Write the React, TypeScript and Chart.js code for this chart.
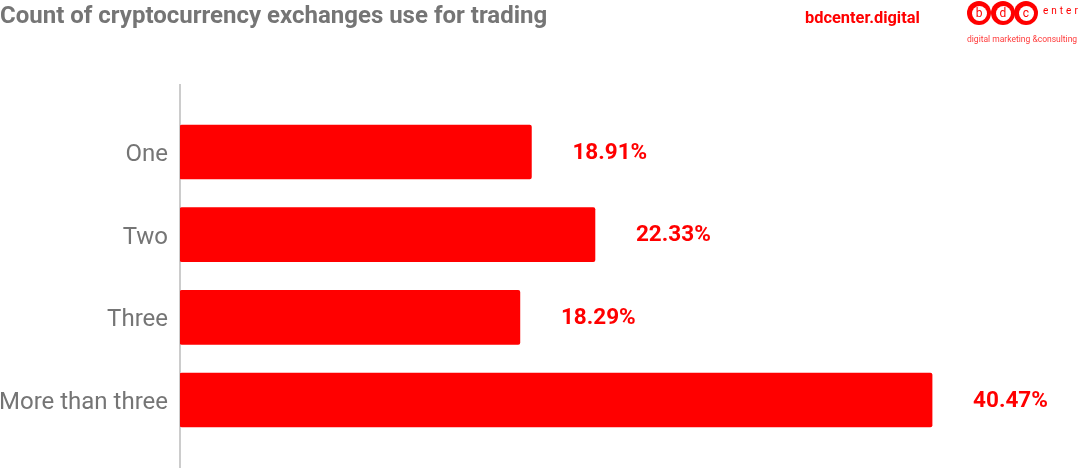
import React, { useEffect, useRef } from "react";
import { Chart, registerables } from "chart.js";

Chart.register(...registerables);

const categories = ["One", "Two", "Three", "More than three"];
const values = [18.91, 22.33, 18.29, 40.47];
const valueLabels = ["18.91%", "22.33%", "18.29%", "40.47%"];
const xMin = 0;
const xMax = 48;

const RED = "#ff0000";

const axisLinePlugin = {
  id: "axisLine",
  beforeDatasetsDraw(chart: any) {
    const ctx = chart.ctx;
    const x = chart.chartArea.left;
    ctx.save();
    ctx.strokeStyle = "#cccccc";
    ctx.lineWidth = 2;
    ctx.beginPath();
    ctx.moveTo(x, 84);
    ctx.lineTo(x, chart.height);
    ctx.stroke();
    ctx.restore();
  },
};

const valueLabelPlugin = {
  id: "valueLabels",
  afterDatasetsDraw(chart: any) {
    const ctx = chart.ctx;
    const meta = chart.getDatasetMeta(0);
    ctx.save();
    ctx.fillStyle = RED;
    ctx.font = "bold 22.5px Roboto";
    ctx.textAlign = "left";
    ctx.textBaseline = "middle";
    meta.data.forEach((bar: any, i: number) => {
      ctx.fillText(valueLabels[i], bar.x + 41, bar.y + 1);
    });
    ctx.restore();
  },
};

function Logo() {
  const letters = ["b", "d", "c"];
  const centers = [979, 1003, 1026];
  return (
    <>
      {letters.map((l, i) => (
        <div
          key={l}
          style={{
            position: "absolute",
            left: centers[i] - 12,
            top: 1,
            width: 24,
            height: 24,
            borderRadius: "50%",
            background: RED,
            display: "flex",
            alignItems: "center",
            justifyContent: "center",
          }}
        >
          <div
            style={{
              width: 15,
              height: 15,
              borderRadius: "50%",
              background: "#fff",
              color: RED,
              fontFamily: "Roboto",
              fontSize: 12,
              lineHeight: "14px",
              textAlign: "center",
            }}
          >
            {l}
          </div>
        </div>
      ))}
      <div
        style={{
          position: "absolute",
          left: 1043,
          top: 5,
          fontFamily: "Roboto",
          fontSize: 10,
          letterSpacing: 3,
          color: RED,
        }}
      >
        enter
      </div>
      <div
        style={{
          position: "absolute",
          left: 967,
          top: 34,
          fontFamily: "Roboto",
          fontSize: 8.5,
          color: "#ff3b3b",
          whiteSpace: "nowrap",
        }}
      >
        digital marketing &amp;consulting
      </div>
    </>
  );
}

export default function App() {
  const canvasRef = useRef<HTMLCanvasElement>(null);

  useEffect(() => {
    if (!canvasRef.current) return;
    const chart = new Chart(canvasRef.current, {
      type: "bar",
      data: {
        labels: categories,
        datasets: [
          {
            data: values,
            backgroundColor: RED,
            borderWidth: 0,
            borderRadius: 2,
            borderSkipped: false,
            barThickness: 54,
          },
        ],
      },
      plugins: [axisLinePlugin, valueLabelPlugin],
      options: {
        indexAxis: "y",
        animation: false,
        responsive: false,
        maintainAspectRatio: false,
        layout: { padding: { top: 110.7, bottom: 26.7, left: 0, right: 8 } },
        plugins: {
          legend: { display: false },
          tooltip: { enabled: false },
          title: { display: false },
        },
        scales: {
          x: {
            display: false,
            min: xMin,
            max: xMax,
          },
          y: {
            grid: { display: false, drawTicks: false },
            border: { display: false },
            ticks: {
              color: "#757575",
              font: { family: "Roboto", size: 24 },
              padding: 12,
              labelOffset: 3,
            },
            afterFit(scale: any) {
              scale.width = 180;
            },
          },
        },
      },
    });
    return () => chart.destroy();
  }, []);

  return (
    <div
      style={{
        position: "absolute",
        left: 0,
        top: 0,
        width: 1080,
        height: 468,
        background: "#fff",
        overflow: "hidden",
      }}
    >
      <canvas
        ref={canvasRef}
        width={1080}
        height={468}
        style={{ position: "absolute", left: 0, top: 0, width: 1080, height: 468 }}
      />
      <div
        style={{
          position: "absolute",
          left: 0,
          top: 1,
          fontFamily: "Roboto",
          fontWeight: "bold",
          fontSize: 24,
          color: "#757575",
          whiteSpace: "nowrap",
        }}
      >
        Count of cryptocurrency exchanges use for trading
      </div>
      <div
        style={{
          position: "absolute",
          left: 805,
          top: 8,
          fontFamily: "Roboto",
          fontWeight: "bold",
          fontSize: 16.4,
          color: RED,
          whiteSpace: "nowrap",
        }}
      >
        bdcenter.digital
      </div>
      <Logo />
    </div>
  );
}
